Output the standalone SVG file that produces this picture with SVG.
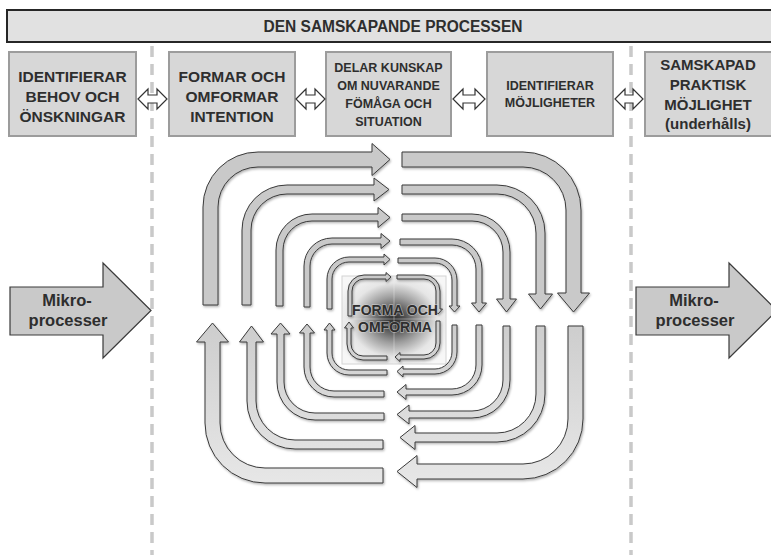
<svg xmlns="http://www.w3.org/2000/svg" width="771" height="555" viewBox="0 0 771 555">
  <defs>
    <style>
      .bar { fill: #e1e1e1; stroke: #262626; stroke-width: 2; }
      .box { fill: #d7d7d7; stroke: #9c9c9c; stroke-width: 2; }
      .lbl { font-family: "Liberation Sans", Arial, sans-serif; font-weight: bold; fill: #2e2e2e; text-anchor: middle; }
      .dbl { fill: #ffffff; stroke: #333333; stroke-width: 1.2; stroke-linejoin: miter; }
      .sep { stroke: #c9c9c9; stroke-width: 3.5; stroke-dasharray: 11 7; fill: none; }
      .big { fill: #c9c9c9; stroke: #3a3a3a; stroke-width: 1.2; }
      .loop { fill: url(#loopFill); stroke: #3a3a3a; stroke-width: 1; stroke-linejoin: miter; }
      .core-txt { paint-order: stroke; stroke: #d8d8d8; stroke-width: 1.5; stroke-opacity: 0.6; }
    </style>
    <linearGradient id="loopFill" gradientUnits="userSpaceOnUse" x1="0" y1="300" x2="0" y2="490">
      <stop offset="0" stop-color="#c9c9c9"/>
      <stop offset="1" stop-color="#e8e8e8"/>
    </linearGradient>
    <radialGradient id="coreFill" cx="0.5" cy="0.5" r="0.62">
      <stop offset="0" stop-color="#2a2a2a"/>
      <stop offset="0.18" stop-color="#505050"/>
      <stop offset="0.42" stop-color="#9e9e9e"/>
      <stop offset="0.68" stop-color="#e6e6e6"/>
      <stop offset="1" stop-color="#f7f7f7"/>
    </radialGradient>
    <filter id="soft" x="-10%" y="-10%" width="120%" height="120%">
      <feDropShadow dx="1" dy="1.5" stdDeviation="1" flood-color="#000000" flood-opacity="0.3"/>
    </filter>
  </defs>

  <rect width="771" height="555" fill="#ffffff"/>

  <!-- phase separators -->
  <g id="separators">
    <line class="sep" x1="152" y1="46" x2="152" y2="555"/>
    <line class="sep" x1="631" y1="46" x2="631" y2="555"/>
  </g>

  <!-- heading bar -->
  <g id="title">
    <rect class="bar" x="7" y="10" width="770" height="32"/>
    <text class="lbl" x="393" y="32" font-size="16" textLength="259" lengthAdjust="spacingAndGlyphs">DEN SAMSKAPANDE PROCESSEN</text>
  </g>

  <!-- process steps -->
  <g id="step1">
    <rect class="box" x="9" y="52" width="127" height="84"/>
    <text class="lbl" font-size="15.5" x="72.5" y="82">IDENTIFIERAR</text>
    <text class="lbl" font-size="15.5" x="72.5" y="102">BEHOV OCH</text>
    <text class="lbl" font-size="15.5" x="72.5" y="122">ÖNSKNINGAR</text>
  </g>
  <g id="step2">
    <rect class="box" x="169" y="52" width="126" height="84"/>
    <text class="lbl" font-size="15.5" x="232" y="82">FORMAR OCH</text>
    <text class="lbl" font-size="15.5" x="232" y="102">OMFORMAR</text>
    <text class="lbl" font-size="15.5" x="232" y="122">INTENTION</text>
  </g>
  <g id="step3">
    <rect class="box" x="326" y="52" width="125" height="84"/>
    <text class="lbl" font-size="12.5" x="388.5" y="72">DELAR KUNSKAP</text>
    <text class="lbl" font-size="12.5" x="388.5" y="90">OM NUVARANDE</text>
    <text class="lbl" font-size="12.5" x="388.5" y="108">FÖMÅGA OCH</text>
    <text class="lbl" font-size="12.5" x="388.5" y="126">SITUATION</text>
  </g>
  <g id="step4">
    <rect class="box" x="487" y="52" width="126" height="84"/>
    <text class="lbl" font-size="12.5" x="550" y="90">IDENTIFIERAR</text>
    <text class="lbl" font-size="12.5" x="550" y="107">MÖJLIGHETER</text>
  </g>
  <g id="step5">
    <rect class="box" x="645" y="52" width="130" height="84"/>
    <text class="lbl" font-size="15" x="708" y="70">SAMSKAPAD</text>
    <text class="lbl" font-size="15" x="708" y="90">PRAKTISK</text>
    <text class="lbl" font-size="15" x="708" y="110">MÖJLIGHET</text>
    <text class="lbl" font-size="15" x="708" y="129">(underhålls)</text>
  </g>

  <!-- two-way links between steps -->
  <g id="links">
    <path class="dbl" d="M138,99 L148,89 L148,95 L157,95 L157,89 L167,99 L157,109 L157,103 L148,103 L148,109 Z"/>
    <path class="dbl" d="M296,99 L306,89 L306,95 L315,95 L315,89 L325,99 L315,109 L315,103 L306,103 L306,109 Z"/>
    <path class="dbl" d="M453,99 L463,89 L463,95 L475,95 L475,89 L485,99 L475,109 L475,103 L463,103 L463,109 Z"/>
    <path class="dbl" d="M615,99 L625,89 L625,95 L633,95 L633,89 L643,99 L633,109 L633,103 L625,103 L625,109 Z"/>
  </g>

  <!-- incoming / outgoing micro-processes -->
  <g id="micro-in">
    <path class="big" d="M10,287 L103,287 L103,263 L151,310.5 L103,358 L103,335 L10,335 Z"/>
    <text class="lbl" font-size="16.5" x="67" y="306">Mikro-</text>
    <text class="lbl" font-size="16.5" x="68" y="326">processer</text>
  </g>
  <g id="micro-out">
    <path class="big" d="M636,287 L729,287 L729,263 L777,310.5 L729,358 L729,335 L636,335 Z"/>
    <text class="lbl" font-size="16.5" x="694" y="306">Mikro-</text>
    <text class="lbl" font-size="16.5" x="695" y="326">processer</text>
  </g>

  <!-- core -->
  <g id="core">
    <rect x="342" y="276" width="104" height="88" fill="url(#coreFill)" stroke="#d4d4d4" stroke-width="1"/>
    <line x1="394" y1="276" x2="394" y2="364" stroke="#ececec" stroke-width="0.8" opacity="0.5"/>
    <line x1="342" y1="319" x2="446" y2="319" stroke="#ececec" stroke-width="0.8" opacity="0.5"/>
  </g>

  <!-- nested circulation loops -->
  <g id="connectors" filter="url(#soft)">
    <!-- upper left: up then right -->
    <path class="loop" d="M203,305 L203,207 A55,55 0 0 1 258,152 L372,152 L372,143.5 L390,159.5 L372,175.5 L372,167 L258,167 A40,40 0 0 0 218,207 L218,305 Z"/>
    <path class="loop" d="M242,305 L242,230 A45,45 0 0 1 287,185 L374,185 L374,178 L389,189.5 L374,201 L374,194 L287,194 A36,36 0 0 0 251,230 L251,305 Z"/>
    <path class="loop" d="M276,306 L276,250 A36,36 0 0 1 312,214 L378,214 L378,207.5 L390,217.5 L378,227.5 L378,221 L312,221 A29,29 0 0 0 283,250 L283,306 Z"/>
    <path class="loop" d="M304,307 L304,266 A28,28 0 0 1 332,238 L381,238 L381,233.5 L390,241 L381,248.5 L381,244 L332,244 A22,22 0 0 0 310,266 L310,307 Z"/>
    <path class="loop" d="M327,309 L327,279 A22,22 0 0 1 349,257 L384,257 L384,254 L390,259.5 L384,265 L384,262 L349,262 A17,17 0 0 0 332,279 L332,309 Z"/>
    <path class="loop" d="M348,316 L348,291 A16,16 0 0 1 364,275 L386,275 L386,272.5 L391,277 L386,281.5 L386,279 L364,279 A12,12 0 0 0 352,291 L352,316 Z"/>

    <!-- upper right: right then down -->
    <path class="loop" d="M402,152 L523,152 A58,58 0 0 1 581,210 L581,293 L589.5,293 L573.5,312 L557.5,293 L566,293 L566,210 A43,43 0 0 0 523,167 L402,167 Z"/>
    <path class="loop" d="M402,185 L497,185 A48,48 0 0 1 545,233 L545,294 L552.5,294 L540.5,309 L528.5,294 L536,294 L536,233 A39,39 0 0 0 497,194 L402,194 Z"/>
    <path class="loop" d="M402,214 L472,214 A38,38 0 0 1 510,252 L510,299 L516.5,299 L506.5,312 L496.5,299 L503,299 L503,252 A31,31 0 0 0 472,221 L402,221 Z"/>
    <path class="loop" d="M400,239 L452,239 A30,30 0 0 1 482,269 L482,303 L486.5,303 L479,312 L471.5,303 L476,303 L476,269 A24,24 0 0 0 452,245 L400,245 Z"/>
    <path class="loop" d="M398,258 L435,258 A22,22 0 0 1 457,280 L457,306 L460,306 L454.5,312 L449,306 L452,306 L452,280 A17,17 0 0 0 435,263 L398,263 Z"/>
    <path class="loop" d="M397,275 L424,275 A16,16 0 0 1 440,291 L440,309 L442.5,309 L438,314 L433.5,309 L436,309 L436,291 A12,12 0 0 0 424,279 L397,279 Z"/>

    <!-- lower right: down then left -->
    <path class="loop" d="M568,326 L583,326 L583,419 A60,60 0 0 1 523,479 L417,479 L417,487.5 L397,471.5 L417,455.5 L417,464 L523,464 A45,45 0 0 0 568,419 Z"/>
    <path class="loop" d="M536,326 L545,326 L545,394 A48,48 0 0 1 497,442 L415,442 L415,449.5 L400,437.5 L415,425.5 L415,433 L497,433 A39,39 0 0 0 536,394 Z"/>
    <path class="loop" d="M503,326 L510,326 L510,380 A38,38 0 0 1 472,418 L409,418 L409,424 L397,414.5 L409,405 L409,411 L472,411 A31,31 0 0 0 503,380 Z"/>
    <path class="loop" d="M476,325 L482,325 L482,365 A30,30 0 0 1 452,395 L406,395 L406,399.5 L397,392 L406,384.5 L406,389 L452,389 A24,24 0 0 0 476,365 Z"/>
    <path class="loop" d="M452,325 L457,325 L457,352 A22,22 0 0 1 435,374 L403,374 L403,377 L397,371.5 L403,366 L403,369 L435,369 A17,17 0 0 0 452,352 Z"/>
    <path class="loop" d="M436,321 L440,321 L440,343 A16,16 0 0 1 424,359 L400,359 L400,361.5 L395,357 L400,352.5 L400,355 L424,355 A12,12 0 0 0 436,343 Z"/>

    <!-- lower left: left then up -->
    <path class="loop" d="M383,483 L265,483 A60,60 0 0 1 205,423 L205,342 L196.5,342 L212.5,323 L228.5,342 L220,342 L220,423 A45,45 0 0 0 265,468 L383,468 Z"/>
    <path class="loop" d="M383,449 L295,449 A48,48 0 0 1 247,401 L247,342 L239.5,342 L251.5,326 L263.5,342 L256,342 L256,401 A39,39 0 0 0 295,440 L383,440 Z"/>
    <path class="loop" d="M384,420 L315,420 A38,38 0 0 1 277,382 L277,334 L271,334 L280.5,323 L290,334 L284,334 L284,382 A31,31 0 0 0 315,413 L384,413 Z"/>
    <path class="loop" d="M384,397 L334,397 A30,30 0 0 1 304,367 L304,333 L299.5,333 L307,324 L314.5,333 L310,333 L310,367 A24,24 0 0 0 334,391 L384,391 Z"/>
    <path class="loop" d="M387,375 L349,375 A22,22 0 0 1 327,353 L327,330 L324,330 L329.5,323 L335,330 L332,330 L332,353 A17,17 0 0 0 349,370 L387,370 Z"/>
    <path class="loop" d="M387,360 L363,360 A16,16 0 0 1 347,344 L347,328 L344.5,328 L349,322 L353.5,328 L351,328 L351,344 A12,12 0 0 0 363,356 L387,356 Z"/>
  </g>

  <g id="core-label">
    <text class="lbl core-txt" font-size="14" x="395" y="315" fill="#2a2a2a">FORMA OCH</text>
    <text class="lbl core-txt" font-size="14" x="395" y="332" fill="#2a2a2a">OMFORMA</text>
  </g>
</svg>
